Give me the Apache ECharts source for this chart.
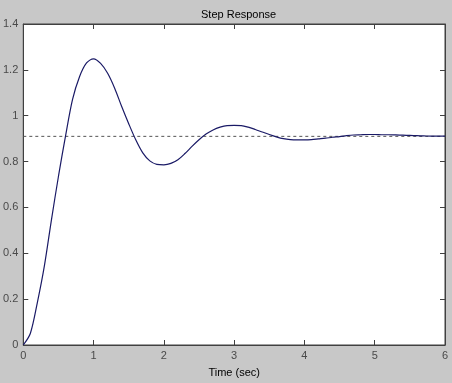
<!DOCTYPE html>
<html>
<head>
<meta charset="utf-8">
<script src="https://cdn.jsdelivr.net/npm/echarts@6/dist/echarts.min.js"></script>
<style>
html,body{margin:0;padding:0;background:#c8c8c8;}
#c{width:452px;height:383px;}
</style>
</head>
<body>
<div id="c"></div>
<script>
var titleText = "Step Response";
var xLabel = "Time (sec)";
var times = [0,0.1,0.2,0.3,0.4,0.5,0.6,0.7,0.8,0.9,1.0,1.1,1.2,1.3,1.4,1.5,1.6,1.7,1.8,1.9,2.0,2.1,2.2,2.3,2.4,2.5,2.6,2.7,2.8,2.9,3.0,3.1,3.2,3.3,3.4,3.5,3.6,3.7,3.8,3.9,4.0,4.1,4.2,4.3,4.4,4.5,4.6,4.7,4.8,4.9,5.0,5.1,5.2,5.3,5.4,5.5,5.6,5.7,5.8,5.9,6.0];
var response = [0,0.05,0.185,0.345,0.545,0.735,0.91,1.07,1.17,1.23,1.248,1.228,1.185,1.12,1.04,0.965,0.895,0.838,0.803,0.788,0.786,0.792,0.808,0.835,0.866,0.895,0.92,0.938,0.95,0.957,0.958,0.957,0.95,0.94,0.929,0.918,0.908,0.9,0.896,0.895,0.895,0.896,0.899,0.902,0.906,0.909,0.913,0.916,0.917,0.918,0.918,0.917,0.917,0.916,0.915,0.914,0.913,0.912,0.911,0.911,0.911];
var steadyState = 0.91;
var xTicks = [0,1,2,3,4,5,6];
var yTicks = [0,0.2,0.4,0.6,0.8,1,1.2,1.4];

var chart = echarts.init(document.getElementById('c'), null, {renderer:'canvas'});
var curve = times.map(function(t,i){return [t, response[i]];});
var ssLine = [[xTicks[0], steadyState],[xTicks[xTicks.length-1], steadyState]];
var font = "'Liberation Sans', Arial, sans-serif";
var axCol = '#404040';
function axis(pos, isX, show){
  return {
    type:'value', position:pos,
    min: isX ? xTicks[0] : yTicks[0],
    max: isX ? xTicks[xTicks.length-1] : yTicks[yTicks.length-1],
    interval: isX ? 1 : 0.2,
    axisLine:{show:true, onZero:false, lineStyle:{color:axCol, width:1}},
    axisTick:{show:true, inside:true, length:5, lineStyle:{color:axCol}},
    axisLabel:{show:show, color:'#4a4a4a', fontSize:11, fontFamily:font, margin:5},
    splitLine:{show:false}
  };
}
var xa = axis('bottom', true, true);
xa.name = xLabel; xa.nameLocation='middle'; xa.nameGap=22;
xa.nameTextStyle = {color:'#000', fontSize:11, fontFamily:font};
var xb = axis('top', true, false);
var ya = axis('left', false, true);
var yb = axis('right', false, false);
chart.setOption({
  backgroundColor:'#c8c8c8',
  animation:false,
  title:{text:titleText, left:196, top:4, textStyle:{color:'#000', fontSize:11, fontWeight:'normal', fontFamily:font}},
  grid:{left:23, right:7, top:24, bottom:37, show:true, backgroundColor:'#ffffff', borderColor:axCol, borderWidth:1},
  xAxis:[xa, xb],
  yAxis:[ya, yb],
  series:[
    {type:'line', data:ssLine, xAxisIndex:0, yAxisIndex:0, symbol:'none', lineStyle:{color:'#555555', width:1, type:[3,3]}},
    {type:'line', data:curve, xAxisIndex:0, yAxisIndex:0, symbol:'none', smooth:0.3, lineStyle:{color:'#1a1a66', width:1.2}}
  ]
});
</script>
</body>
</html>
